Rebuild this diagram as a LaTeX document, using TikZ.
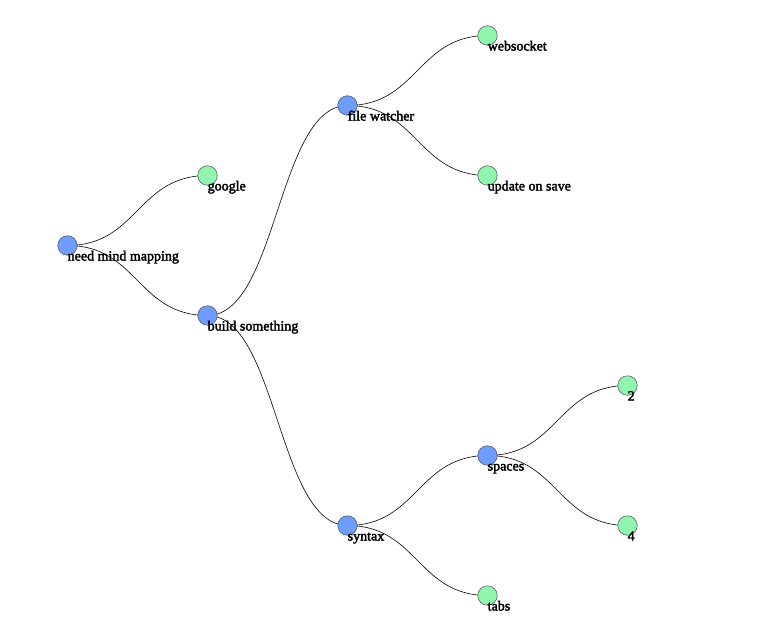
\documentclass[tikz,border=0pt]{standalone}
\usepackage{fontspec}
\usetikzlibrary{calc}
\setmainfont{Liberation Serif}
\newfontfamily\lblfont[FakeBold=2.5]{Liberation Serif}
\definecolor{innerc}{HTML}{6D9EFF}
\definecolor{leafc}{HTML}{90F5AE}
\begin{document}
\begin{tikzpicture}[x=1pt,y=-1pt,
  inner/.style={circle,draw=black!70,line width=0.5pt,fill=innerc,minimum size=19.5pt,inner sep=0pt},
  leaf/.style={circle,draw=black!70,line width=0.5pt,fill=leafc,minimum size=19.5pt,inner sep=0pt},
  lbl/.style={anchor=base west,inner sep=0pt,font=\lblfont\fontsize{14}{15}\selectfont},
  link/.style={line width=0.6pt,black}]
\useasboundingbox (0,0) rectangle (763,626);
\path (67.5,245.5) coordinate (p0)
      (207.5,175.5) coordinate (p1)
      (207.5,315.5) coordinate (p2)
      (347.5,105.5) coordinate (p3)
      (487.5,35.5) coordinate (p4)
      (487.5,175.5) coordinate (p5)
      (347.5,525.5) coordinate (p6)
      (487.5,455.5) coordinate (p7)
      (627.5,385.5) coordinate (p8)
      (627.5,525.5) coordinate (p9)
      (487.5,595.5) coordinate (p10);
\foreach \a/\b in {p0/p1,p0/p2,p2/p3,p3/p4,p3/p5,p2/p6,p6/p7,p7/p8,p7/p9,p6/p10}{
  \draw[link] let \p1=(\a), \p2=(\b) in
    (\p1) .. controls ({(\x1+\x2)/2},\y1) and ({(\x1+\x2)/2},\y2) .. (\p2);
}
\node[inner] (n0) at (p0) {};
\node[leaf] (n1) at (p1) {};
\node[inner] (n2) at (p2) {};
\node[inner] (n3) at (p3) {};
\node[leaf] (n4) at (p4) {};
\node[leaf] (n5) at (p5) {};
\node[inner] (n6) at (p6) {};
\node[inner] (n7) at (p7) {};
\node[leaf] (n8) at (p8) {};
\node[leaf] (n9) at (p9) {};
\node[leaf] (n10) at (p10) {};
\node[lbl] at ([yshift=-15pt]p0) {need mind mapping};
\node[lbl] at ([yshift=-15pt]p1) {google};
\node[lbl] at ([yshift=-15pt]p2) {build something};
\node[lbl] at ([yshift=-15pt]p3) {file watcher};
\node[lbl] at ([yshift=-15pt]p4) {websocket};
\node[lbl] at ([yshift=-15pt]p5) {update on save};
\node[lbl] at ([yshift=-15pt]p6) {syntax};
\node[lbl] at ([yshift=-15pt]p7) {spaces};
\node[lbl] at ([yshift=-15pt]p8) {2};
\node[lbl] at ([yshift=-15pt]p9) {4};
\node[lbl] at ([yshift=-15pt]p10) {tabs};
\end{tikzpicture}
\end{document}
